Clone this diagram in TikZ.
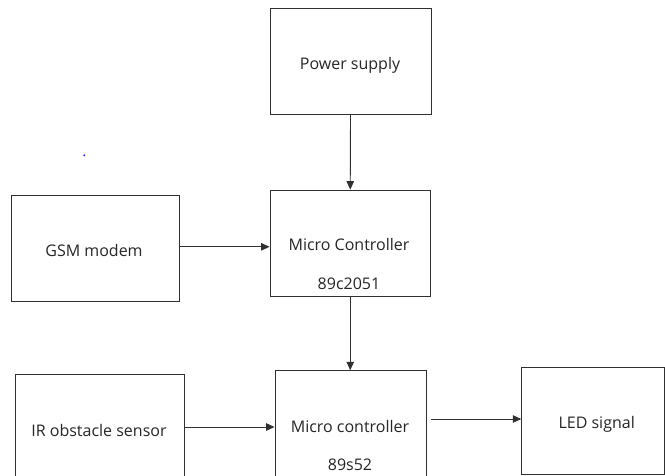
\documentclass[tikz,border=0pt]{standalone}
\usepackage{fontspec}
\setmainfont{Open Sans}
\usetikzlibrary{arrows.meta}
\definecolor{linec}{HTML}{303030}
\definecolor{textc}{HTML}{262626}
\tikzset{
  x=1pt, y=1pt,
  blockbox/.style={draw=linec, line width=0.9pt, inner sep=0pt},
  lbl/.style={inner sep=0pt, font=\fontsize{16}{19}\selectfont, text=textc},
  arr/.style={draw=linec, line width=0.9pt, -{Triangle[length=8.5pt,width=7.5pt]}}
}
\begin{document}
\begin{tikzpicture}
\clip (0,0) rectangle (665,-476);
\fill[white] (0,0) rectangle (665,-476);
% blocks
\node[blockbox, minimum width=161pt, minimum height=106pt] (ps) at (350.5,-61) {};
\node[blockbox, minimum width=160.5pt, minimum height=106.5pt] (mc1) at (350.25,-243.3) {};
\node[blockbox, minimum width=168.3pt, minimum height=106.3pt] (gsm) at (95.2,-248.8) {};
\node[blockbox, minimum width=168.6pt, minimum height=106pt] (ir) at (100,-427) {};
\node[blockbox, minimum width=151.7pt, minimum height=108.6pt] (mc2) at (350.85,-425) {};
\node[blockbox, minimum width=142.3pt, minimum height=106.7pt] (led) at (592.85,-420.65) {};
% texts
\node[lbl] (pst) at (350,-65.5) {Power supply};
\node[lbl] (mc1t) at (349,-245) {Micro Controller};
\node[lbl] (mc1b) at (349,-283.5) {89c2051};
\node[lbl] (gsmt) at (94,-250.5) {GSM modem};
\node[lbl] (irt) at (99,-430) {IR obstacle sensor};
\node[lbl] (mc2t) at (350,-426.5) {Micro controller};
\node[lbl] (mc2b) at (350,-465) {89s52};
\node[lbl] (ledt) at (596.7,-424.5) {LED signal};
% stray dot
\fill[blue!80] (84.3,-155.3) circle (1.1pt);
% connectors
\draw[arr] (ps.south) -- (mc1.north);
\draw[arr] ([yshift=2pt]gsm.east) -- ([yshift=2pt]gsm.east -| mc1.west);
\draw[arr] (mc1.south) -- (mc1.south |- mc2.north);
\draw[arr] (ir.east) -- (ir.east -| mc2.west);
\coordinate (mc2out) at ([xshift=4pt,yshift=6pt]mc2.east);
\draw[arr] (mc2out) -- (mc2out -| led.west);
\end{tikzpicture}
\end{document}
